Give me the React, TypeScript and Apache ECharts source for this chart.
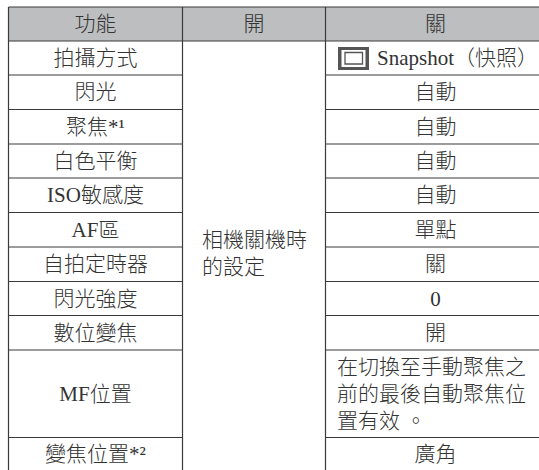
import React, { useEffect, useRef } from "react";
import * as echarts from "echarts";

const WIDTH = 539;
const HEIGHT = 470;
const FONT = '"Liberation Serif", "Noto Sans CJK TC", serif';
const INK = "#333333";
const RULE = "#3a3a3a";

const headers = ["功能", "開", "關"];
const functionRows = [
  "拍攝方式", "閃光", "聚焦*¹", "白色平衡", "ISO敏感度", "AF區",
  "自拍定時器", "閃光強度", "數位變焦", "MF位置", "變焦位置*²",
];
const offRows = [
  "Snapshot（快照）", "自動", "自動", "自動", "自動", "單點", "關", "0", "開",
  "在切換至手動聚焦之\n前的最後自動聚焦位\n置有效 。", "廣角",
];
const onLines = "相機關機時\n的設定";
const columnLines = [8.5, 182.5, 325.5];
const rowLines = [7, 41, 75, 109.5, 144, 178, 212.5, 247, 281.5, 315.5, 350, 437.5];

function buildGraphic() {
  const els: any[] = [];
  const [x0, x1, x2] = columnLines;
  const x3 = WIDTH;
  const top = rowLines[0];
  const headBottom = rowLines[1];
  const bottom = HEIGHT;

  els.push({ type: "rect", shape: { x: x0, y: top, width: x3 - x0, height: headBottom - top }, style: { fill: "#bcbec0" } });

  const line = (a: number, b: number, c: number, d: number, w = 1.2) =>
    els.push({ type: "line", shape: { x1: a, y1: b, x2: c, y2: d }, style: { stroke: RULE, lineWidth: w } });

  rowLines.forEach((y, i) => {
    if (i <= 1) line(x0, y, x3, y);
    else {
      line(x0, y, x1, y);
      line(x2, y, x3, y);
    }
  });
  columnLines.forEach((x) => line(x, top, x, bottom));

  const text = (t: string, x: number, y: number, align = "center", size = 21, lh = 27) =>
    els.push({
      type: "text", x, y,
      style: { text: t, fill: INK, font: `300 ${size}px ${FONT}`, align, verticalAlign: "middle", lineHeight: lh },
    });

  const cols = [(x0 + x1) / 2, (x1 + x2) / 2, 435.5];
  headers.forEach((h, i) => text(h, cols[i], (top + headBottom) / 2));

  functionRows.forEach((label, i) => {
    const y = (rowLines[i + 1] + (rowLines[i + 2] ?? HEIGHT)) / 2;
    text(label, cols[0], y);
  });

  offRows.forEach((label, i) => {
    const y = (rowLines[i + 1] + (rowLines[i + 2] ?? HEIGHT)) / 2;
    if (i === 0) text(label, 377, y, "left");
    else if (label.includes("\n")) text(label, 337, y, "left");
    else text(label, cols[2], y);
  });

  text(onLines, 202, 253.5, "left");

  // snapshot mode icon
  els.push({ type: "rect", shape: { x: 338, y: 47, width: 31, height: 23 }, style: { fill: "#555555" } });
  els.push({ type: "rect", shape: { x: 341.5, y: 50, width: 24, height: 17 }, style: { fill: "#ffffff" } });
  els.push({ type: "rect", shape: { x: 345, y: 52.5, width: 17.5, height: 11.5 }, style: { fill: "#ffffff", stroke: "#555555", lineWidth: 1.3 } });

  return els;
}

export default function App() {
  const ref = useRef<HTMLDivElement>(null);
  useEffect(() => {
    const chart = echarts.init(ref.current!, null, { renderer: "svg" });
    chart.setOption({ animation: false, backgroundColor: "#ffffff", graphic: { elements: buildGraphic() } });
    return () => chart.dispose();
  }, []);
  return <div ref={ref} style={{ position: "fixed", left: 0, top: 0, width: WIDTH, height: HEIGHT }} />;
}
